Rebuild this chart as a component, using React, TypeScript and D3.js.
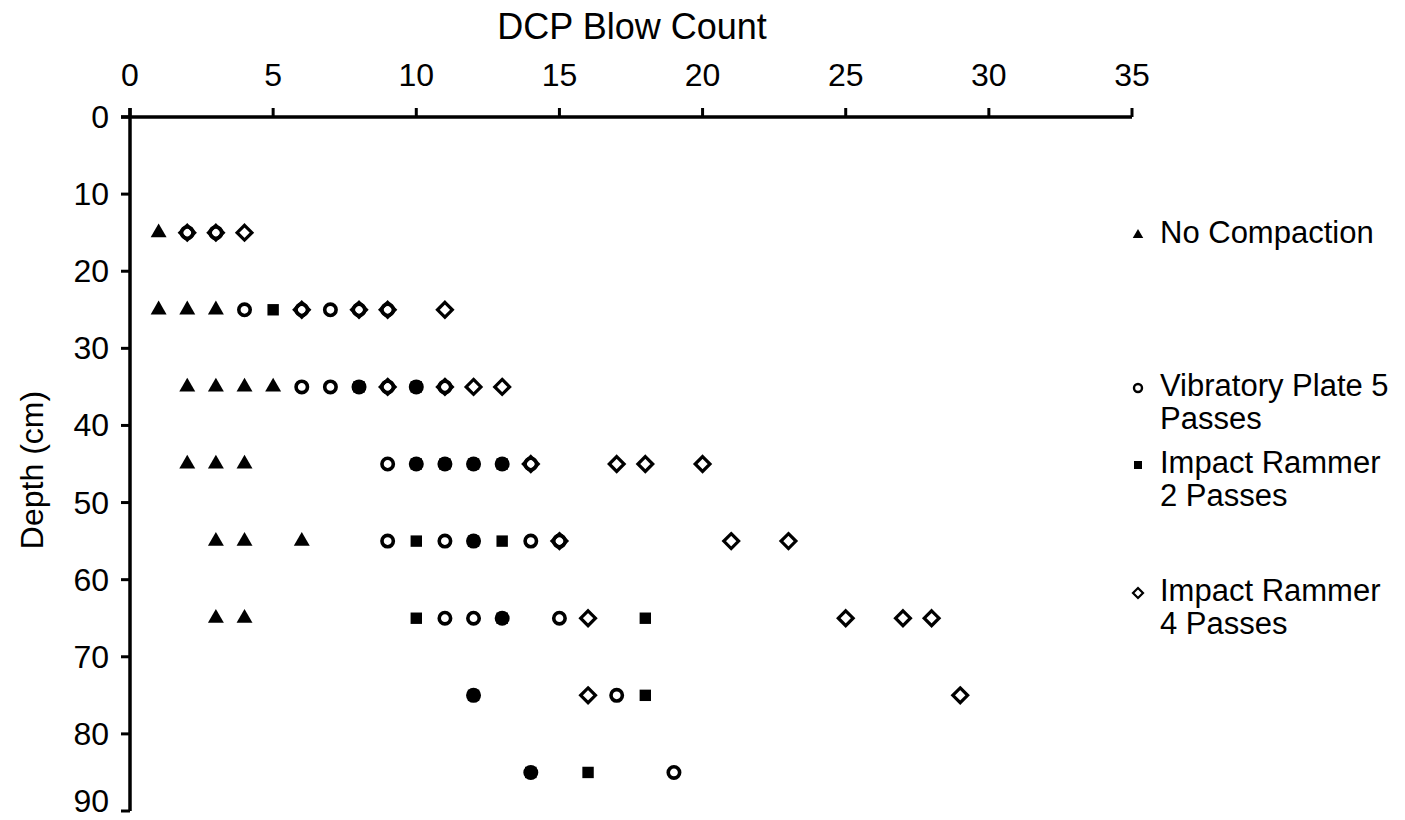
import React from 'react';
import * as d3 from 'd3';

// depth rows (cm) and blow counts per treatment at each depth
const depths = [15, 25, 35, 45, 55, 65, 75, 85];
const noCompaction = [[1], [1, 2, 3], [2, 3, 4, 5], [2, 3, 4], [3, 4, 6], [3, 4], [], []];
const vibratoryPlate = [[2, 3], [4, 6, 7, 8, 9], [6, 7, 8, 9, 10, 11], [9, 10, 11, 12, 13, 14], [9, 11, 12, 14, 15], [11, 12, 13, 15], [12, 17], [14, 19]];
const rammer2 = [[], [5], [8, 10], [10, 11, 12, 13], [10, 12, 13], [10, 13, 18], [12, 18], [14, 16]];
const rammer4 = [[2, 3, 4], [6, 8, 9, 11], [9, 11, 12, 13], [14, 17, 18, 20], [15, 21, 23], [16, 25, 27, 28], [16, 29], []];

const xTicks = [0, 5, 10, 15, 20, 25, 30, 35];
const yTicks = [0, 10, 20, 30, 40, 50, 60, 70, 80, 90];

const legendItems = [
    { key: 'tri', lines: ['No Compaction'], y: 232 },
    { key: 'circ', lines: ['Vibratory Plate 5', 'Passes'], y: 385 },
    { key: 'sq', lines: ['Impact Rammer', '2 Passes'], y: 462 },
    { key: 'dia', lines: ['Impact Rammer', '4 Passes'], y: 590 },
];

const flatten = (rows: number[][]) =>
    rows.flatMap((vals, i) => vals.map(v => ({ v, d: depths[i] })));

const App = () => {
    const width = 1405, height = 820;
    const x = d3.scaleLinear().domain([0, 35]).range([130, 1132]);
    const y = d3.scaleLinear().domain([0, 90]).range([117, 811]);
    const font = '"Liberation Sans", Arial, sans-serif';

    const tri = d3.symbol().type(d3.symbolTriangle).size(110)();
    const sq = d3.symbol().type(d3.symbolSquare).size(130)();
    const triSmall = d3.symbol().type(d3.symbolTriangle).size(48)();
    const sqSmall = d3.symbol().type(d3.symbolSquare).size(64)();

    const diamond = (r: number) => `M0,${-r}L${r},0L0,${r}L${-r},0Z`;

    const drawMarker = (kind: string, small = false) => {
        if (kind === 'tri') return <path d={small ? triSmall : tri} fill="#000" />;
        if (kind === 'sq') return <path d={small ? sqSmall : sq} fill="#000" />;
        if (kind === 'circ') return <circle r={small ? 4 : 5.7} fill="#fff" stroke="#000" strokeWidth={small ? 2.4 : 3.6} />;
        return <path d={diamond(small ? 5 : 7.4)} fill="none" stroke="#000" strokeWidth={small ? 2.2 : 3.2} strokeLinejoin="miter" />;
    };

    // draw order: circles under the filled squares so that overlaps read as solid dots
    const layers: [string, number[][]][] = [
        ['tri', noCompaction],
        ['circ', vibratoryPlate],
        ['sq', rammer2],
        ['dia', rammer4],
    ];

    return (
        <div>
            <svg width={width} height={height} style={{ position: 'fixed', top: 0, left: 0, background: '#fff' }}>
                <text x={632} y={39} fontFamily={font} fontSize={36} textAnchor="middle">DCP Blow Count</text>
                <text transform={`translate(43,${470}) rotate(-90)`} fontFamily={font} fontSize={32} textAnchor="middle">Depth (cm)</text>

                {xTicks.map(t => (
                    <g key={'x' + t}>
                        <line x1={x(t)} x2={x(t)} y1={y(0) - 9} y2={y(0)} stroke="#000" strokeWidth={3} />
                        <text x={x(t)} y={86} fontFamily={font} fontSize={32} textAnchor="middle">{t}</text>
                    </g>
                ))}
                {yTicks.map(t => (
                    <g key={'y' + t}>
                        <line x1={x(0) - 9} x2={x(0)} y1={y(t)} y2={y(t)} stroke="#000" strokeWidth={3} />
                        <text x={109} y={Math.min(y(t) + 11, 812)} fontFamily={font} fontSize={32} textAnchor="end">{t}</text>
                    </g>
                ))}
                <line x1={x(0) - 9} x2={x(35)} y1={y(0)} y2={y(0)} stroke="#000" strokeWidth={3.5} />
                <line x1={x(0)} x2={x(0)} y1={y(0) - 9} y2={y(90)} stroke="#000" strokeWidth={3.5} />

                {layers.map(([kind, rows]) =>
                    flatten(rows).map((p, i) => (
                        <g key={kind + i} transform={`translate(${x(p.v)},${y(p.d)})`}>
                            {drawMarker(kind)}
                        </g>
                    ))
                )}

                {legendItems.map(item => (
                    <g key={item.key}>
                        <g transform={`translate(1138,${item.y + 3})`}>{drawMarker(item.key, true)}</g>
                        {item.lines.map((ln, j) => (
                            <text key={j} x={1160} y={item.y + 11 + j * 33} fontFamily={font} fontSize={31}>{ln}</text>
                        ))}
                    </g>
                ))}
            </svg>
        </div>
    );
};

export default App;
